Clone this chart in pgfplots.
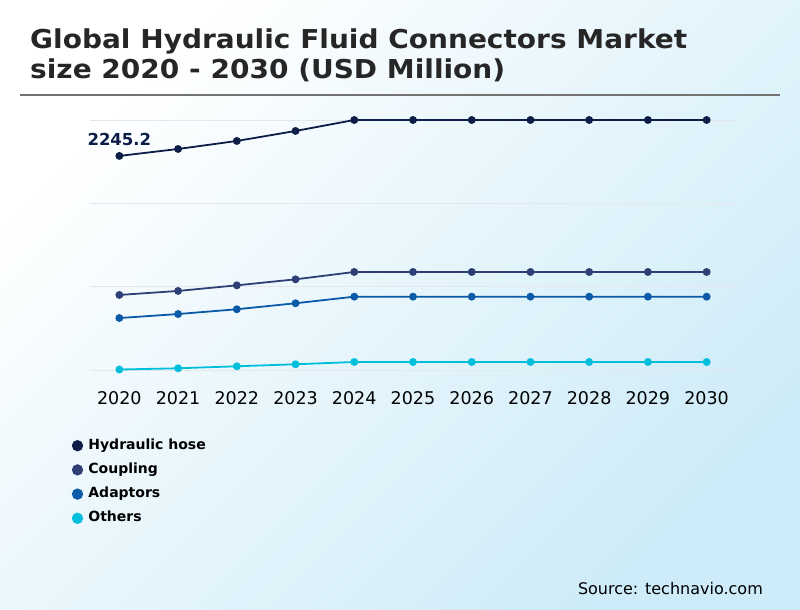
\documentclass[border=0pt]{standalone}
\usepackage{pgfplots}
\pgfplotsset{compat=1.18}
\usepackage{fontspec}
\setmainfont{DejaVu Sans}

\definecolor{hose}{HTML}{0C1E48}
\definecolor{coupling}{HTML}{2D3F75}
\definecolor{adaptors}{HTML}{0A5AA8}
\definecolor{others}{HTML}{00BFDD}
\definecolor{gridc}{HTML}{E4E8EB}
\definecolor{bgend}{HTML}{CDEBF8}

\pgfplotstableread{
year hose coupling adaptors others
2020 2245.2 787 545 5
2021 2318 829 587 18
2022 2402 888 637 39
2023 2507 951 700 60
2024 2622 1028 769 84
2025 2622 1028 769 84
2026 2622 1028 769 84
2027 2622 1028 769 84
2028 2622 1028 769 84
2029 2622 1028 769 84
2030 2622 1028 769 84
}\market

\begin{document}
\begin{tikzpicture}
  % background
  \shade[top color=white, bottom color=bgend, shading angle=45] (0pt,0pt) rectangle (800pt,610pt);
  % title
  \node[anchor=base west, inner sep=0pt, font=\bfseries\fontsize{26}{30}\selectfont, text=black!85]
    at (30pt,561pt) {\scalebox{1.077}[1]{Global Hydraulic Fluid Connectors Market}};
  \node[anchor=base west, inner sep=0pt, font=\bfseries\fontsize{26}{30}\selectfont, text=black!85]
    at (30pt,531pt) {\scalebox{1.077}[1]{size 2020 - 2030 (USD Million)}};
  \draw[black!55, line width=1.5pt] (20pt,515pt) -- (780pt,515pt);
  % source
  \node[anchor=base east, inner sep=0pt, font=\fontsize{16}{19}\selectfont]
    at (763pt,15pt) {Source: technavio.com};

  \begin{axis}[
    at={(90pt,240pt)}, anchor=south west,
    scale only axis,
    width=646pt, height=250pt,
    xmin=2019.5, xmax=2030.5,
    ymin=0, ymax=2622,
    clip=false,
    axis line style={draw=none},
    tick style={draw=none},
    xtick={2020,...,2030},
    ytick={0,874,1748,2622},
    yticklabels={},
    ymajorgrids,
    grid style={gridc, line width=0.8pt},
    /pgf/number format/assume math mode=true,
    /pgf/number format/1000 sep={},
    xticklabel style={font=\fontsize{17.5}{20}\selectfont, inner sep=0pt, anchor=north, yshift=-21pt},
    every axis plot/.append style={line width=1.8pt, mark=*, mark size=3pt},
    legend cell align=left,
    legend image code/.code={\fill (0pt,0pt) circle (4.7pt);},
    legend style={draw=none, fill=none, at={(rel axis cs:0,0)}, anchor=north west,
      xshift=-21.3pt, yshift=-67pt,
      font=\bfseries\fontsize{14}{16}\selectfont,
      nodes={inner sep=0pt, text height=10pt, text depth=3pt},
      row sep=11.2pt,
      /tikz/every odd column/.append style={column sep=5.3pt}},
  ]
    \addplot[color=hose] table[x=year,y=hose] {\market};
    \addplot[color=coupling] table[x=year,y=coupling] {\market};
    \addplot[color=adaptors] table[x=year,y=adaptors] {\market};
    \addplot[color=others] table[x=year,y=others] {\market};
    \legend{Hydraulic hose, Coupling, Adaptors, Others}
    \node[anchor=south, inner sep=0pt, yshift=9.5pt, text=hose,
      font=\bfseries\fontsize{16.5}{19}\selectfont] at (axis cs:2020,2245.2) {2245.2};
  \end{axis}
\end{tikzpicture}
\end{document}
